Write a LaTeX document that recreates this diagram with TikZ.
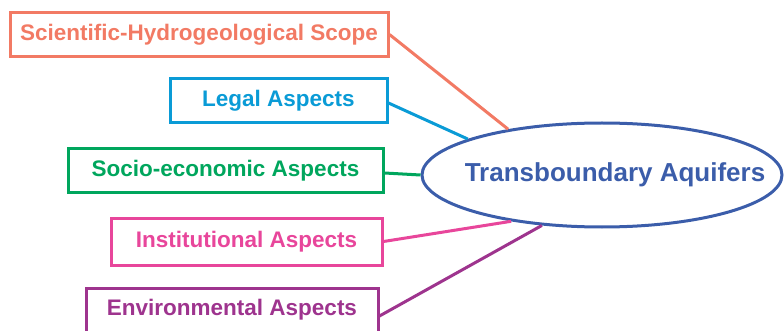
\documentclass[tikz,border=0pt]{standalone}
\usepackage{fontspec}
\setmainfont{Liberation Sans}
\usetikzlibrary{shapes.geometric}
\definecolor{csci}{HTML}{F27A64}
\definecolor{cleg}{HTML}{0A9BD6}
\definecolor{csoc}{HTML}{00A65D}
\definecolor{cins}{HTML}{E8469B}
\definecolor{cenv}{HTML}{9E348E}
\definecolor{cta}{HTML}{3B5DAA}
\begin{document}
\begin{tikzpicture}[x=1pt,y=-1pt,
  aspbox/.style={draw=#1,text=#1,line width=3pt,rectangle,inner sep=0pt,
    minimum height=44pt,font=\fontsize{22.5}{26}\selectfont\bfseries},
  link/.style={draw=#1,line width=3pt}]
\useasboundingbox (0,0) rectangle (784,331);
\node[ellipse,draw=cta,line width=3pt,minimum width=360pt,minimum height=104pt,inner sep=0pt] (TA) at (602,175) {};
\node[text=cta,font=\fontsize{26}{30}\selectfont\bfseries,inner sep=0pt] (TAlbl) at ([xshift=13pt]TA.center) {Transboundary Aquifers};
\node[aspbox=csci,minimum width=378pt] (B1) at (199,34.5) {Scientific-Hydrogeological Scope};
\node[aspbox=cleg,minimum width=217pt] (B2) at (278.5,100.5) {Legal Aspects};
\node[aspbox=csoc,minimum width=315pt] (B3) at (225.5,171) {Socio-economic Aspects};
\node[aspbox=cins,minimum width=271pt,minimum height=47pt] (B4) at (246.5,241.5) {Institutional Aspects};
\node[aspbox=cenv,minimum width=292pt] (B5) at (232,310) {Environmental Aspects};
\draw[link=csci] (B1.east) -- (TA.154.6);
\draw[link=cleg] ([yshift=-2.5pt]B2.east) -- (TA.165.1);
\draw[link=csoc] ([yshift=-2pt]B3.east) -- (TA.west);
\draw[link=cins] (B4.east) -- (TA.207.9);
\draw[link=cenv] ([yshift=-6pt]B5.east) -- (TA.220.7);
\end{tikzpicture}
\end{document}
